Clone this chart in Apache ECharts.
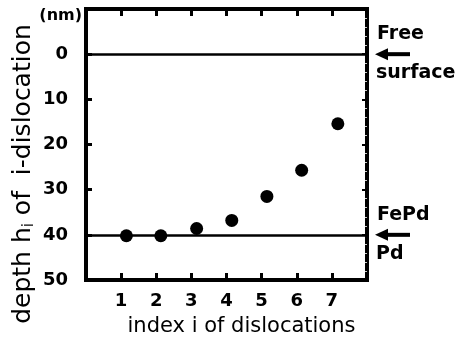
<!DOCTYPE html>
<html>
<head>
<meta charset="UTF-8">
<script src="https://cdn.jsdelivr.net/npm/echarts@6/dist/echarts.min.js"></script>
<style>
  html, body { margin: 0; padding: 0; background: #fff; }
  #main { width: 459px; height: 345px; }
</style>
</head>
<body>
<div id="main"></div>
<script>
// data
const dislocationIndex = [1.15, 2.13, 3.15, 4.15, 5.15, 6.14, 7.17];
const depthNm = [40.2, 40.2, 38.6, 36.8, 31.5, 25.7, 15.4];
const interfaceDepths = [0, 40];
const interfaceLabels = [['Free', 'surface'], ['FePd', 'Pd']];
const xTickLabels = [1, 2, 3, 4, 5, 6, 7];
const yTickLabels = [0, 10, 20, 30, 40, 50];

const FONT = 'DejaVu Sans';
const chart = echarts.init(document.getElementById('main'));

const tickStyle = { inside: true, length: 7, lineStyle: { color: '#000', width: 3 } };
const axisLine = { onZero: false, lineStyle: { color: '#000', width: 4 } };

const option = {
  animation: false,
  backgroundColor: '#fff',
  grid: { left: 86, right: 92, top: 9, bottom: 65, show: true, borderColor: '#000', borderWidth: 4 },
  xAxis: [{
    type: 'value', min: 0, max: 8, interval: 1, position: 'bottom',
    axisLine: axisLine,
    axisTick: tickStyle,
    splitLine: { show: false },
    axisLabel: {
      margin: 12, color: '#000', fontFamily: FONT, fontWeight: 'bold', fontSize: 18,
      formatter: v => xTickLabels.includes(v) ? String(v) : ''
    },
    name: 'index i of dislocations', nameLocation: 'middle', nameGap: 36,
    nameTextStyle: { color: '#000', fontFamily: FONT, fontSize: 21, padding: [0, 0, 0, 30] }
  }, {
    type: 'value', min: 0, max: 8, interval: 1, position: 'top',
    axisLine: axisLine,
    axisTick: tickStyle,
    splitLine: { show: false },
    axisLabel: { show: false }
  }],
  yAxis: [{
    type: 'value', min: -10, max: 50, interval: 10, inverse: true, position: 'left',
    axisLine: axisLine,
    axisTick: { inside: true, length: 6, lineStyle: { color: '#000', width: 3 } },
    splitLine: { show: false },
    axisLabel: {
      margin: 18, color: '#000', fontFamily: FONT, fontWeight: 'bold', fontSize: 18,
      formatter: v => yTickLabels.includes(v) ? String(v) : ''
    }
  }, {
    type: 'value', min: -10, max: 50, interval: 10, inverse: true, position: 'right',
    axisLine: axisLine,
    axisTick: { inside: true, length: 5, lineStyle: { color: '#000', width: 2 } },
    minorTick: { show: true, splitNumber: 5, length: 2, lineStyle: { color: '#ccc', width: 1 } },
    splitLine: { show: false },
    axisLabel: { show: false }
  }],
  series: [{
    type: 'scatter',
    symbolSize: 13,
    itemStyle: { color: '#000', opacity: 1 },
    data: dislocationIndex.map((x, i) => [x, depthNm[i]]),
    markLine: {
      silent: true, symbol: 'none', label: { show: false },
      lineStyle: { color: '#000', width: 2.5, type: 'solid', opacity: 1 },
      data: interfaceDepths.map(v => ({ yAxis: v }))
    }
  }]
};
chart.setOption(option);

// annotations: axis title with subscript, unit, interface labels and arrows
const graphics = [{
  type: 'text', x: 23, y: 174, rotation: Math.PI / 2,
  style: {
    text: '{n|depth h}{s|i}{n| of  i-dislocation}',
    align: 'center', verticalAlign: 'middle',
    rich: {
      n: { fontFamily: FONT, fontSize: 25, lineHeight: 28, fill: '#000', verticalAlign: 'middle' },
      s: { fontFamily: FONT, fontSize: 15, lineHeight: 14, fill: '#000', verticalAlign: 'bottom' }
    }
  }
}, {
  type: 'text', x: 82, y: 16,
  style: { text: '(nm)', align: 'right', verticalAlign: 'middle', fontFamily: FONT, fontWeight: 'bold', fontSize: 16, fill: '#000' }
}];

interfaceDepths.forEach((d, i) => {
  const y = chart.convertToPixel({ yAxisIndex: 0 }, d);
  const [above, below] = interfaceLabels[i];
  graphics.push({
    type: 'text', x: 377, y: y - 20,
    style: { text: above, verticalAlign: 'middle', fontFamily: FONT, fontWeight: 'bold', fontSize: 19, fill: '#000' }
  }, {
    type: 'text', x: 376, y: y + 19,
    style: { text: below, verticalAlign: 'middle', fontFamily: FONT, fontWeight: 'bold', fontSize: 19, fill: '#000' }
  }, {
    type: 'line', shape: { x1: 385, y1: y, x2: 410, y2: y },
    style: { stroke: '#000', lineWidth: 4 }
  }, {
    type: 'polygon', shape: { points: [[375, y], [388, y - 6], [388, y + 6]] },
    style: { fill: '#000' }
  });
});

chart.setOption({ graphic: graphics });
</script>
</body>
</html>
